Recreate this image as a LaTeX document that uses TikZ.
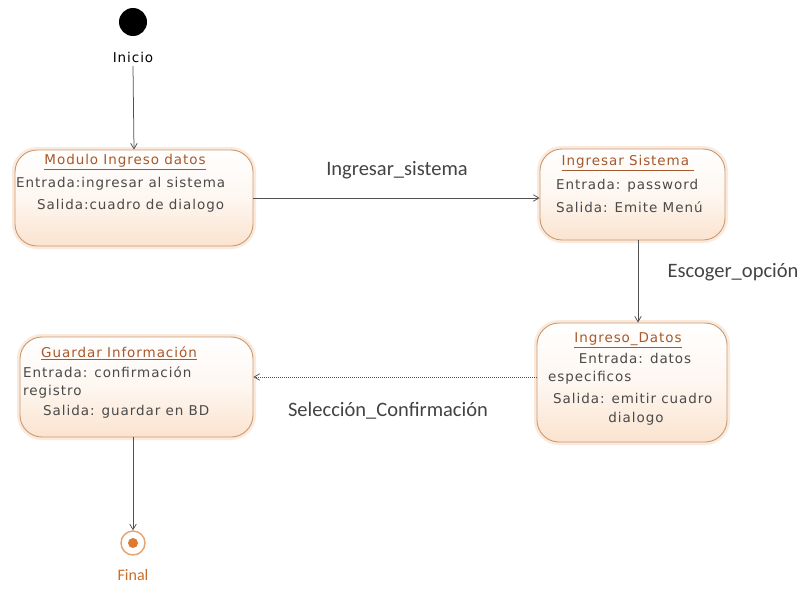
\documentclass[tikz,border=0pt]{standalone}
\usepackage{fontspec}
\setmainfont{DejaVu Sans}
\newfontfamily\boxfont[LetterSpace=7]{DejaVu Sans}
\newfontfamily\labelfont{Carlito}
\usetikzlibrary{arrows.meta}
\definecolor{stateborder}{HTML}{C99A72}
\definecolor{statefill}{HTML}{FBE3CF}
\definecolor{stateglow}{HTML}{F3C29A}
\definecolor{titlecol}{HTML}{A8582A}
\definecolor{bodycol}{HTML}{4A4A4A}
\definecolor{linecol}{HTML}{505050}
\definecolor{finalcol}{HTML}{E07A2E}
\tikzset{
  statebox/.style={draw=stateborder, line width=0.9pt, rounded corners=22pt,
    top color=white, bottom color=statefill, middle color=white!70!statefill,
    inner sep=0pt,
    preaction={draw=stateglow, line width=6pt, draw opacity=0.35}},
  boxtext/.style={font=\boxfont\fontsize{13.5}{15}\selectfont, text=bodycol, inner sep=0pt},
  boxtitle/.style={boxtext, text=titlecol},
  edgelabel/.style={font=\labelfont\fontsize{20.5}{22}\selectfont, text=bodycol!90!black, inner sep=0pt},
  trans/.style={draw=linecol, line width=0.75pt, -{Straight Barb[length=5.5pt,width=6.5pt]}},
  dottrans/.style={trans, dash pattern=on 1pt off 1pt}
}
\begin{document}
\begin{tikzpicture}[x=1pt,y=-1pt]
  \useasboundingbox (0,0) rectangle (802,589);

  % initial state
  \node[circle, fill=black, minimum size=28pt, inner sep=0pt] (start) at (133,22) {};
  \node[font=\boxfont\fontsize{13.5}{15}\selectfont, inner sep=0pt] (startlbl) at (133,57) {Inicio};

  % states
  \node[statebox, minimum width=238pt, minimum height=96pt] (modulo) at (134,198) {};
  \node[boxtitle] (t1) at (125,162) {\underline{Modulo Ingreso datos}};
  \node[boxtext, anchor=west] (e1) at (16,184) {Entrada:ingresar al sistema};
  \node[boxtext, anchor=west] (s1) at (37,206) {Salida:cuadro de dialogo};

  \node[statebox, minimum width=185pt, minimum height=91pt] (ingsis) at (632.5,194.5) {};
  \node[boxtitle] (t2) at (628,163) {\underline{Ingresar Sistema\ }};
  \node[boxtext, anchor=west] (e2) at (556,186) {Entrada: password};
  \node[boxtext, anchor=west] (s2) at (556,207) {Salida: Emite Menú};

  \node[statebox, minimum width=190pt, minimum height=119pt] (ingdat) at (632,382.5) {};
  \node[boxtitle] (t3) at (628,340) {\underline{Ingreso\_Datos}};
  \node[boxtext] (e3) at (635,358) {Entrada: datos};
  \node[boxtext, anchor=west] (x3) at (548,378) {especificos};
  \node[boxtext, anchor=west] (s3) at (553,398) {Salida: emitir cuadro};
  \node[boxtext] (d3) at (636,419) {dialogo};

  \node[statebox, minimum width=233pt, minimum height=100pt] (guardar) at (136.5,387) {};
  \node[boxtitle] (t4) at (119,353) {\underline{Guardar Información}};
  \node[boxtext, anchor=west] (e4) at (23,372) {Entrada: confirmación};
  \node[boxtext, anchor=west] (r4) at (23,392) {registro};
  \node[boxtext, anchor=west] (s4) at (43,412) {Salida: guardar en BD};

  % final state
  \node[circle, draw=finalcol!70, line width=1.4pt, fill=white, minimum size=24pt, inner sep=0pt] (final) at (133,543) {};
  \node[circle, fill=finalcol, minimum size=10pt, inner sep=0pt] (finaldot) at (final.center) {};
  \node[font=\labelfont\fontsize{16}{18}\selectfont, text=finalcol!90!black, inner sep=0pt] (finallbl) at (133,575) {Final};

  % transitions
  \draw[trans] (startlbl.south |- 0,66) -- (modulo.north);
  \draw[trans] (modulo.east) -- (ingsis.west |- modulo.east);
  \node[edgelabel] (l1) at (397,170) {Ingresar\_sistema};
  \draw[trans] (ingsis.south -| 638,0) -- (ingdat.north -| 638,0);
  \node[edgelabel] (l2) at (733,272) {Escoger\_opción};
  \draw[dottrans] (ingdat.west |- 0,377) -- (guardar.east |- 0,377);
  \node[edgelabel] (l3) at (388,411) {Selección\_Confirmación};
  \draw[trans] (guardar.south -| final.north) -- (final.north);
\end{tikzpicture}
\end{document}
